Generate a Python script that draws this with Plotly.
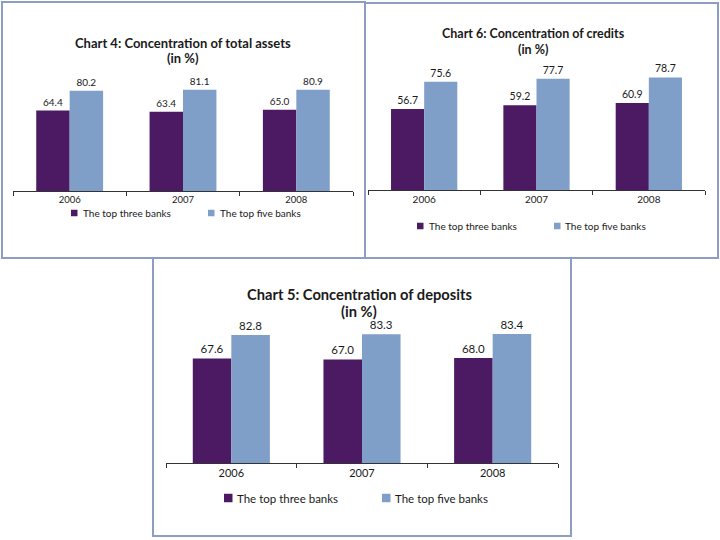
import plotly.graph_objects as go

years = ["2006", "2007", "2008"]
assets_top3 = [64.4, 63.4, 65.0]
assets_top5 = [80.2, 81.1, 80.9]
credits_top3 = [56.7, 59.2, 60.9]
credits_top5 = [75.6, 77.7, 78.7]
deposits_top3 = [67.6, 67.0, 68.0]
deposits_top5 = [82.8, 83.3, 83.4]
series_names = ["The top three banks", "The top five banks"]

W, H = 720, 540
PURPLE = "#4B1A62"
BLUE = "#7F9FC9"
BORDER = "#8E9EC3"
TXT = "#1a1a1a"
FONT = "Lato"


def fx(x):
    return x / W


def fy(y):
    return 1 - y / H


fig = go.Figure()

charts = [
    dict(ax="", t3=assets_top3, t5=assets_top5, xd=(13, 353), yd=(191, 71), yr=96.0, ls=10, ts=9.5),
    dict(ax="2", t3=credits_top3, t5=credits_top5, xd=(368, 705), yd=(190, 70), yr=83.9, ls=10.5, ts=10),
    dict(ax="3", t3=deposits_top3, t5=deposits_top5, xd=(166, 558), yd=(463, 320), yr=92.5, ls=11.5, ts=11),
]

for c in charts:
    for vals, col in ((c["t3"], PURPLE), (c["t5"], BLUE)):
        fig.add_trace(go.Bar(
            x=years, y=vals, marker=dict(color=col, line=dict(width=0)),
            text=vals, texttemplate="%{y:.1f}", textposition="outside",
            textfont=dict(size=c["ls"], color=TXT, family=FONT),
            cliponaxis=False, showlegend=False,
            xaxis="x" + c["ax"], yaxis="y" + c["ax"],
        ))
    xa = dict(domain=[fx(c["xd"][0]), fx(c["xd"][1])], anchor="y" + c["ax"],
              type="category", showline=True, linecolor="#333", linewidth=1,
              ticks="outside", tickson="boundaries", ticklen=4, tickcolor="#333",
              tickfont=dict(size=c["ts"], color=TXT, family=FONT), showgrid=False,
              fixedrange=True)
    ya = dict(domain=[fy(c["yd"][0]), fy(c["yd"][1])], anchor="x" + c["ax"],
              range=[0, c["yr"]], visible=False, showgrid=False, fixedrange=True)
    fig.layout["xaxis" + c["ax"]] = xa
    fig.layout["yaxis" + c["ax"]] = ya

fig.update_layout(barmode="group", bargap=0.41, bargroupgap=0)

shapes = []
annotations = []

for x0, y0, x1, y1 in [(2, 2, 365, 258), (365, 3, 718, 258), (153, 258, 571, 536)]:
    shapes.append(dict(type="rect", xref="paper", yref="paper",
                       x0=fx(x0), x1=fx(x1), y0=fy(y0), y1=fy(y1),
                       line=dict(color=BORDER, width=2), fillcolor="rgba(0,0,0,0)"))

titles = [
    ("Chart 4: Concentration of total assets", 183, 43, 58, 13),
    ("Chart 6: Concentration of credits", 533, 33, 49, 12.5),
    ("Chart 5: Concentration of deposits", 359, 294, 311, 14.7),
]
for t, cx, y1, y2, s in titles:
    for txt, yy in ((t, y1), ("(in %)", y2)):
        annotations.append(dict(text="<b>" + txt + "</b>", x=fx(cx), y=fy(yy),
                                xref="paper", yref="paper", showarrow=False,
                                xanchor="center", yanchor="middle",
                                font=dict(size=s, color=TXT, family=FONT)))

legends = [
    [(71, 6.5, 81, 213, 10), (208, 6.5, 218, 213, 10)],
    [(417, 6.5, 427, 226, 10), (554, 6.5, 563, 226, 10)],
    [(224, 8.5, 235, 498, 11.5), (382, 8.5, 393, 498, 11.5)],
]
for items in legends:
    for (sx, sz, tx, cy, fs), name, col in zip(items, series_names, (PURPLE, BLUE)):
        shapes.append(dict(type="rect", xref="paper", yref="paper",
                           x0=fx(sx), x1=fx(sx + sz), y0=fy(cy - sz / 2), y1=fy(cy + sz / 2),
                           line=dict(width=0), fillcolor=col))
        annotations.append(dict(text=name, x=fx(tx), y=fy(cy), xref="paper", yref="paper",
                                showarrow=False, xanchor="left", yanchor="middle",
                                font=dict(size=fs, color=TXT, family=FONT)))

fig.update_layout(
    width=W, height=H, margin=dict(l=0, r=0, t=0, b=0),
    paper_bgcolor="white", plot_bgcolor="white",
    shapes=shapes, annotations=annotations,
    font=dict(family=FONT, color=TXT),
    showlegend=False,
)

fig.write_html("out.html", config={"displayModeBar": False},
               post_script="document.body.style.margin='0';document.body.style.overflow='hidden';")
